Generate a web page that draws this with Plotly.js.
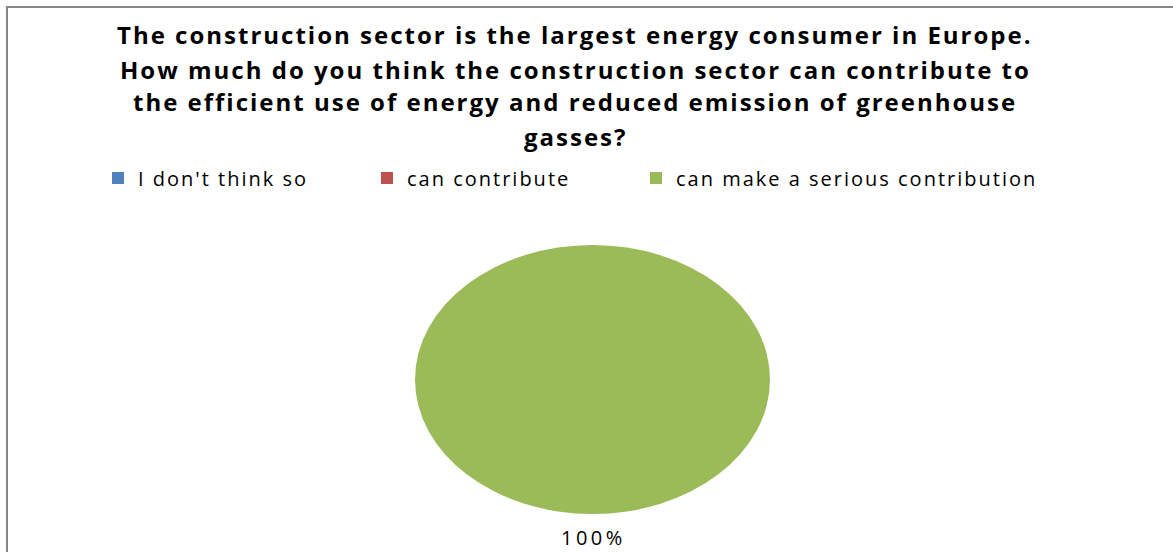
<!DOCTYPE html>
<html>
<head>
<meta charset="utf-8">
<script src="https://cdn.plot.ly/plotly-3.0.1.min.js"></script>
<style>
html,body{margin:0;padding:0;background:#fff;}
#chart{width:1173px;height:552px;}
.legendtext{letter-spacing:2px;}
.annotation text{letter-spacing:2px;}
.annotation[data-index="4"] text{letter-spacing:3.5px;}
</style>
</head>
<body>
<div id="chart"></div>
<script>
const titleLines = [
  "The construction sector is the largest energy consumer in Europe.",
  "How much do you think the construction sector can contribute to",
  "the efficient use of energy and reduced emission of greenhouse",
  "gasses?"
];
const categories = ["I don't think so", "can contribute", "can make a serious contribution"];
const values = [0, 0, 100];
const sliceColors = ["#4F81BD", "#C0504D", "#9BBB59"];

const W = 1173, H = 552;
const titleCentersPx = [34, 69, 102, 136];

const total = values.reduce((a, b) => a + b, 0);

const annotations = titleLines.map((t, i) => ({
  text: "<b>" + t + "</b>",
  xref: "paper", yref: "paper",
  x: 575 / W, y: 1 - titleCentersPx[i] / H,
  xanchor: "center", yanchor: "middle",
  showarrow: false,
  font: {family: "Open Sans", size: 24, color: "#000000"}
}));

// percentage label of the non-zero slice, placed below the pie
values.forEach((v, i) => {
  if (v > 0) {
    annotations.push({
      text: Math.round(v / total * 100) + "%",
      xref: "paper", yref: "paper",
      x: 593 / W, y: 1 - 537 / H,
      xanchor: "center", yanchor: "middle",
      showarrow: false,
      font: {family: "Open Sans", size: 20, color: "#000000"}
    });
  }
});

const trace = {
  type: "pie",
  labels: categories,
  values: values,
  sort: false,
  direction: "clockwise",
  rotation: 0,
  marker: {colors: sliceColors, line: {width: 0}},
  textinfo: "none",
  hoverinfo: "label+percent",
  domain: {
    x: [(592.5 - 134.5) / W, (592.5 + 134.5) / W],
    y: [(H - 379.5 - 134.5) / H, (H - 379.5 + 134.5) / H]
  },
  showlegend: true
};

const layout = {
  width: W, height: H,
  margin: {l: 0, r: 0, t: 0, b: 0},
  paper_bgcolor: "#ffffff",
  plot_bgcolor: "#ffffff",
  annotations: annotations,
  showlegend: true,
  legend: {
    orientation: "h",
    x: 98 / W, xanchor: "left",
    y: 1 - 178 / H, yanchor: "middle",
    entrywidth: 224, entrywidthmode: "pixels",
    font: {family: "Open Sans", size: 20, color: "#000000"},
    bgcolor: "rgba(0,0,0,0)",
    traceorder: "normal"
  },
  shapes: [{
    type: "rect", xref: "paper", yref: "paper",
    x0: 7 / W, x1: 1.02, y0: -0.02, y1: 1 - 7 / H,
    line: {color: "#868686", width: 2},
    fillcolor: "rgba(0,0,0,0)"
  }]
};

Plotly.newPlot("chart", [trace], layout, {displayModeBar: false, staticPlot: true}).then(gd => {
  const k = 177.5 / 134.5;
  document.querySelectorAll(".pielayer path.surface").forEach(p => {
    const bb = p.getBBox();
    const cx = bb.x + bb.width / 2;
    p.setAttribute("transform", "translate(" + cx + ",0) scale(" + k + ",1) translate(" + (-cx) + ",0)");
  });
  document.querySelectorAll(".legend .scrollbox, .legend").forEach(g => {
    g.removeAttribute("clip-path");
  });
});
</script>
</body>
</html>
